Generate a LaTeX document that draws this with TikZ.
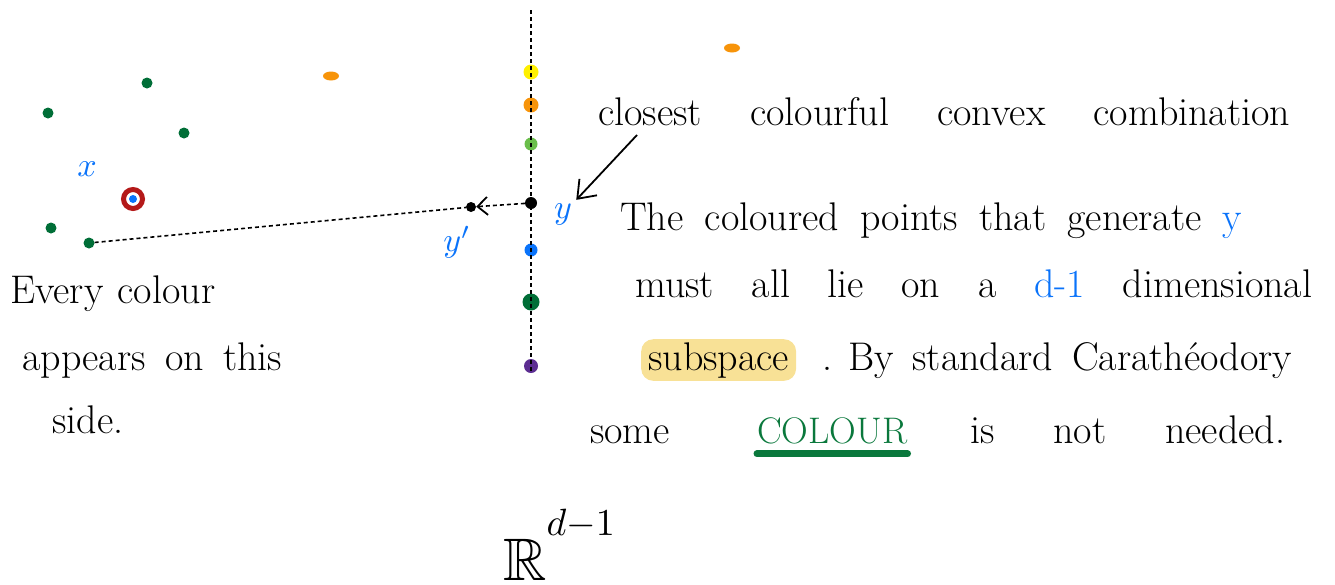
\documentclass[tikz,border=0pt]{standalone}
\usepackage{amssymb}
\usepackage{graphicx}
\usetikzlibrary{arrows.meta,shapes.geometric}

\definecolor{ptgreen}{RGB}{0,110,55}
\definecolor{ptyellow}{RGB}{255,240,0}
\definecolor{ptorange}{RGB}{247,148,10}
\definecolor{ptlight}{RGB}{106,190,75}
\definecolor{ptblue}{RGB}{10,115,250}
\definecolor{ptpurple}{RGB}{92,45,145}
\definecolor{ptred}{RGB}{180,25,25}
\definecolor{hilite}{RGB}{248,225,150}
\definecolor{colgreen}{RGB}{10,120,60}

\tikzset{
  dot/.style={circle, fill=#1, inner sep=0pt, minimum size=12pt},
  blob/.style={ellipse, fill=ptorange, inner sep=0pt, minimum width=16pt, minimum height=9pt},
  hand/.style={font=\fontsize{40}{46}\selectfont, inner sep=0pt, anchor=base west},
  lbl/.style={text=ptblue, inner sep=0pt},
  dashline/.style={dash pattern=on 4pt off 3pt, line width=1.6pt},
}

\begin{document}
\begin{tikzpicture}[x=1pt,y=-1pt]
                \useasboundingbox (0,0) rectangle (1335,584);
                % Points on the hyperplane
                \foreach \c/\y/\s/\n in {ptyellow/72/15/p1, ptorange/105/15/p2, ptlight/144/13/p3,
                                         black/203/12/ydot, ptblue/250/13/p5, ptgreen/302/17/p6, ptpurple/366/14/p7}
                    \node[dot=\c, minimum size=\s pt] (\n) at (531,\y) {};
                % The hyperplane itself
                \coordinate (top) at (531,10);
                \coordinate (bot) at (531,373);
                \draw[dashline] (top) -- (bot);
                % Green points on the left side
                \foreach \x/\y/\n in {147/83/g1, 48/113/g2, 184/133/g3, 51/228/g4, 89/243/g5}
                    \node[dot=ptgreen, minimum size=11pt] (\n) at (\x,\y) {};
                % Stray orange points
                \node[blob] (o1) at (331,76) {};
                \node[blob] (o2) at (732,48) {};
                % The point x
                \node[circle, draw=ptred, line width=5pt, minimum size=19pt, inner sep=0pt] (ring) at (133,199) {};
                \node[dot=ptblue, minimum size=8pt] (xdot) at (133,199) {};
                \node[lbl] (xlab) at (87,169) {\scalebox{3.4}{$x$}};
                % y and y'
                \node[dot=black, minimum size=10pt] (yp) at (471,207) {};
                \draw[dashline] (g5) -- (yp);
                \draw[dashline, -{Straight Barb[length=10pt,width=18pt,line width=1.8pt]}] (ydot) -- (yp);
                \node[lbl] (ylab) at (563,214) {\scalebox{3.4}{$y$}};
                \node[lbl] (yplab) at (457,242) {\scalebox{3.4}{$y'$}};
                % Annotation
                \node[hand] (closest) at (598,125) {\makebox[692pt][s]{closest colourful convex combination}};
                \coordinate (ctail) at (637,135);
                \draw[line width=1.8pt, shorten >=6pt, -{Straight Barb[length=16pt,width=24pt,line width=1.8pt]}] (ctail) -- (ylab);
                \node[hand] (l1) at (620,230) {\makebox[622pt][s]{The coloured points that generate \textcolor{ptblue}{y}}};
                \node[hand] (l2) at (635,297) {\makebox[677pt][s]{must all lie on a \textcolor{ptblue}{d-1} dimensional}};
                \node[hand, fill=hilite, rounded corners=12pt, inner xsep=7pt, inner ysep=3pt] (sub) at (641,370) {subspace};
                \node[hand] (l3) at (822,370) {\makebox[470pt][s]{.\hspace{16pt}By standard Carathéodory}};
                \node[hand] (some) at (590,443) {some};
                \node[hand, text=colgreen, font=\fontsize{37}{44}\selectfont] (colour) at (757,443) {COLOUR};
                \draw[colgreen, line width=7pt, line cap=round] ([yshift=-10pt]colour.south west) -- ([yshift=-10pt]colour.south east);
                \node[hand] (l4) at (970,443) {\makebox[315pt][s]{is not needed.}};
                % Left side note
                \node[hand] (e1) at (10,303) {\makebox[205pt][s]{Every colour}};
                \node[hand] (e2) at (22,370) {\makebox[260pt][s]{appears on this}};
                \node[hand] (e3) at (52,433) {side.};
                % Ambient space
                \node[inner sep=0pt, anchor=base west] (space) at (503,580)
                    {\scalebox{6}{$\mathbb{R}$}\raisebox{45pt}{\scalebox{3.8}{$d{-}1$}}};
            \end{tikzpicture}
\end{document}
